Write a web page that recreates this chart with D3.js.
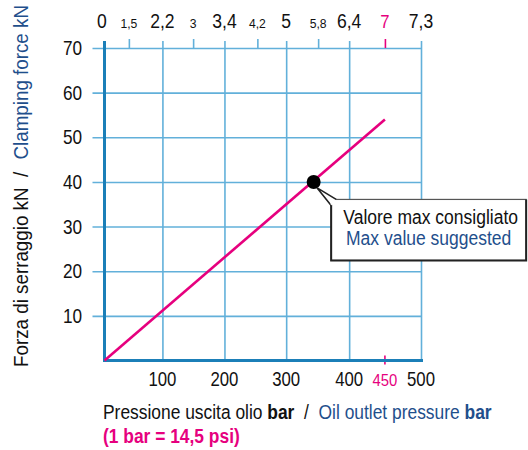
<!DOCTYPE html>
<html>
<head>
<meta charset="utf-8">
<script src="https://cdn.jsdelivr.net/npm/d3@7"></script>
<style>
  html, body { margin: 0; padding: 0; background: #fff; }
  svg { display: block; font-family: "Liberation Sans", Arial, sans-serif; }
</style>
</head>
<body>
<svg id="chart" width="528" height="450"></svg>
<script>
// Oil outlet pressure (bar) on the bottom axis
const pressureTicks = [100, 200, 300, 400, 500];
const maxPressure = 450;
// Secondary scale printed along the top, one label every 50 bar
const topTickPressure = [0, 50, 100, 150, 200, 250, 300, 350, 400, 450, 500];
const topTickLabels = ["0", "1,5", "2,2", "3", "3,4", "4,2", "5", "5,8", "6,4", "7", "7,3"];
// Clamping force (kN)
const forceTicks = [10, 20, 30, 40, 50, 60, 70];
// Clamping force curve
const curvePressure = [0, 450];
const curveForce = [0, 54];
// Maximum suggested working point [bar, kN]
const suggestedPoint = [343, 40];

const pink = "#e6007e";
const axisBlue = "#1b7fb8";
const gridBlue = "#62b0da";
const textBlue = "#1f4f8c";

const svg = d3.select("#chart");
const plot = { left: 104.5, right: 421, top: 48, bottom: 360.5 };

// Narrow lettering: squeeze a text horizontally around its anchor point
function condense(sel, k, extra = "") {
  sel.each(function () {
    const t = d3.select(this);
    const tx = +t.attr("x") || 0, ty = +t.attr("y") || 0;
    t.attr("x", null).attr("y", null)
      .attr("transform", `translate(${tx},${ty})${extra} scale(${k},1)`);
  });
  return sel;
}

// The printed pressure axis is not evenly spaced; breakpoints follow its grid.
const spacing = [0, 0.077, 0.183, 0.28, 0.379, 0.483, 0.574, 0.675, 0.773, 0.886, 1];
const x = d3.scaleLinear()
  .domain(topTickPressure)
  .range(spacing.map(f => plot.left + f * (plot.right - plot.left)));
const y = d3.scaleLinear().domain([0, 70]).range([plot.bottom, plot.top]);

// Horizontal grid lines (with their tick stubs left of the axis)
svg.append("g")
  .attr("transform", `translate(${plot.left - 12},0)`)
  .call(d3.axisLeft(y).tickValues(forceTicks).tickSize(-(plot.right - plot.left) - 12).tickFormat(""))
  .call(g => g.select(".domain").remove())
  .call(g => g.selectAll(".tick line").attr("stroke", gridBlue).attr("stroke-width", 1.6));

// Vertical grid lines, extending a little above the top line
svg.append("g")
  .attr("transform", `translate(0,${plot.bottom})`)
  .call(d3.axisBottom(x).tickValues(pressureTicks).tickSize(-(plot.bottom - plot.top) - 7).tickFormat(""))
  .call(g => g.select(".domain").remove())
  .call(g => g.selectAll(".tick line").attr("stroke", gridBlue).attr("stroke-width", 1.6));

// Short ticks on the top line between grid lines
const topMinor = topTickPressure.filter((d, i) => i % 2 === 1);
svg.append("g")
  .attr("transform", `translate(0,${plot.top})`)
  .call(d3.axisTop(x).tickValues(topMinor).tickSize(9).tickFormat(""))
  .call(g => g.select(".domain").remove())
  .call(g => g.selectAll(".tick line")
    .attr("stroke", d => d === maxPressure ? pink : gridBlue)
    .attr("stroke-width", 1.6));

// Top scale labels
svg.append("g").selectAll("text")
  .data(topTickPressure)
  .join("text")
  .attr("x", d => x(d) - (d === 0 ? 2.5 : 0))
  .attr("y", 28)
  .attr("text-anchor", "middle")
  .attr("fill", d => d === maxPressure ? pink : "#111")
  .attr("font-size", (d, i) => d === maxPressure ? 18.5 : (i % 2 === 0 ? 19.5 : 13.5))
  .text((d, i) => topTickLabels[i])
  .call(condense, 0.9);

// Y tick labels
svg.append("g").selectAll("text")
  .data(forceTicks)
  .join("text")
  .attr("x", 82)
  .attr("y", d => y(d) + 7)
  .attr("text-anchor", "end")
  .attr("font-size", 20)
  .attr("fill", "#111")
  .text(d => d)
  .call(condense, 0.86);

// Bottom tick labels
svg.append("g").selectAll("text")
  .data(pressureTicks)
  .join("text")
  .attr("x", d => x(d))
  .attr("y", 386)
  .attr("text-anchor", "middle")
  .attr("font-size", 20)
  .attr("fill", "#111")
  .text(d => d)
  .call(condense, 0.84);

// Max pressure marker on the bottom axis
svg.append("line")
  .attr("x1", x(maxPressure)).attr("x2", x(maxPressure))
  .attr("y1", plot.bottom - 5).attr("y2", plot.bottom + 4)
  .attr("stroke", pink).attr("stroke-width", 1.6);
svg.append("text")
  .attr("x", x(maxPressure)).attr("y", 385.5)
  .attr("text-anchor", "middle")
  .attr("font-size", 16.5)
  .attr("fill", pink)
  .text(maxPressure)
  .call(condense, 0.9);

// Main axes
svg.append("line")
  .attr("x1", plot.left).attr("x2", plot.left)
  .attr("y1", plot.top - 7).attr("y2", plot.bottom + 1.5)
  .attr("stroke", axisBlue).attr("stroke-width", 3);
svg.append("line")
  .attr("x1", plot.left - 1.5).attr("x2", plot.right + 2)
  .attr("y1", plot.bottom).attr("y2", plot.bottom)
  .attr("stroke", axisBlue).attr("stroke-width", 3);

// Force curve
const curve = curvePressure.map((p, i) => [p, curveForce[i]]);
svg.append("path")
  .datum(curve)
  .attr("d", d3.line().x(d => x(d[0])).y(d => y(d[1])))
  .attr("fill", "none")
  .attr("stroke", pink)
  .attr("stroke-width", 2.6);

// Suggested maximum point
const px = x(suggestedPoint[0]);
const py = y(suggestedPoint[1]);
svg.append("circle")
  .attr("cx", px).attr("cy", py).attr("r", 7)
  .attr("fill", "#000");

// Callout box
const box = { x: px + 17.5, y: py + 17.5, w: 195, h: 61 };
svg.append("rect")
  .attr("x", box.x).attr("y", box.y)
  .attr("width", box.w).attr("height", box.h)
  .attr("fill", "#fff")
  .attr("stroke", "#555").attr("stroke-width", 1.2);
svg.append("path")
  .attr("d", `M${box.x},${box.y}V${box.y + box.h}H${box.x + box.w}V${box.y}`)
  .attr("fill", "none").attr("stroke", "#222").attr("stroke-width", 2);
svg.append("path")
  .attr("d", `M${box.x},${box.y + 6}L${px + 3.5},${py + 6}L${box.x + 5},${box.y}`)
  .attr("fill", "#fff").attr("stroke", "#222").attr("stroke-width", 1.6)
  .attr("stroke-linejoin", "miter");
svg.append("rect")
  .attr("x", box.x - 0.5).attr("y", box.y + 0.8)
  .attr("width", 5).attr("height", 4.6)
  .attr("fill", "#fff");
svg.append("text")
  .attr("x", box.x + box.w / 2 + 2).attr("y", box.y + 24.5)
  .attr("text-anchor", "middle").attr("font-size", 20).attr("fill", "#111")
  .text("Valore max consigliato")
  .call(condense, 0.875);
svg.append("text")
  .attr("x", box.x + box.w / 2).attr("y", box.y + 45.5)
  .attr("text-anchor", "middle").attr("font-size", 20).attr("fill", textBlue)
  .text("Max value suggested")
  .call(condense, 0.875);

// Y axis title
const yTitle = svg.append("text")
  .attr("x", 28).attr("y", 367)
  .attr("font-size", 20)
  .attr("xml:space", "preserve");
yTitle.append("tspan").attr("fill", "#111").text("Forza di serraggio kN  /  ");
yTitle.append("tspan").attr("fill", textBlue).attr("dx", 2).text("Clamping force kN");
condense(yTitle, 0.94, " rotate(-90)");

// X axis title
const xTitle = svg.append("text")
  .attr("x", 103).attr("y", 419)
  .attr("font-size", 20)
  .attr("xml:space", "preserve");
xTitle.append("tspan").attr("fill", "#111").text("Pressione uscita olio ");
xTitle.append("tspan").attr("fill", "#111").attr("font-weight", "bold").text("bar");
xTitle.append("tspan").attr("fill", "#111").text("  /  ");
xTitle.append("tspan").attr("fill", textBlue).text("Oil outlet pressure ");
xTitle.append("tspan").attr("fill", textBlue).attr("font-weight", "bold").text("bar");
condense(xTitle, 0.87);

svg.append("text")
  .attr("x", 103).attr("y", 443)
  .attr("font-size", 20).attr("font-weight", "bold")
  .attr("fill", pink)
  .text("(1 bar = 14,5 psi)")
  .call(condense, 0.87);
</script>
</body>
</html>
